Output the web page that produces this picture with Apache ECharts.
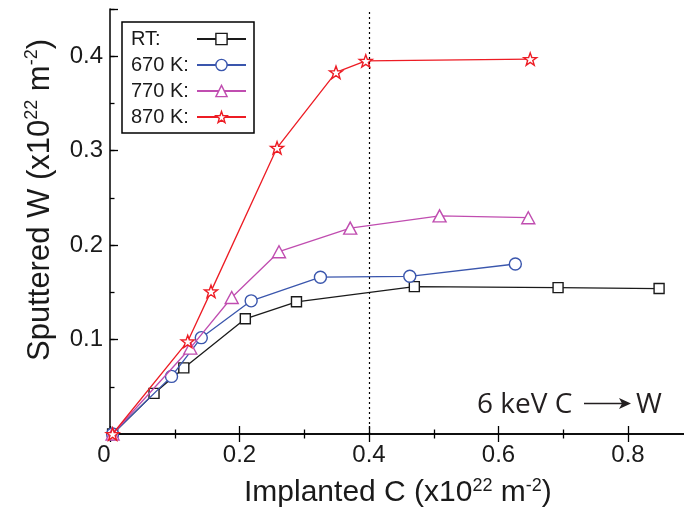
<!DOCTYPE html>
<html>
<head>
<meta charset="utf-8">
<script src="https://cdn.jsdelivr.net/npm/echarts@6/dist/echarts.min.js"></script>
<style>
  html, body { margin: 0; padding: 0; background: #fff; }
  #chart { width: 684px; height: 516px; }
</style>
</head>
<body>
<div id="chart"></div>
<script>
// Sputtered W versus implanted C, [implanted C, sputtered W] in units of 1e22 m^-2
const seriesNames = ['RT', '670 K', '770 K', '870 K'];
const dataRT   = [[0.004, 0], [0.068, 0.043], [0.114, 0.070], [0.209, 0.122], [0.288, 0.140], [0.470, 0.156], [0.692, 0.155], [0.848, 0.154]];
const data670K = [[0.004, 0], [0.095, 0.061], [0.141, 0.102], [0.218, 0.141], [0.325, 0.166], [0.463, 0.167], [0.626, 0.180]];
const data770K = [[0.004, 0], [0.124, 0.091], [0.188, 0.1445], [0.261, 0.193], [0.371, 0.218], [0.509, 0.231], [0.646, 0.229]];
const data870K = [[0.004, 0], [0.120, 0.098], [0.156, 0.151], [0.258, 0.303], [0.349, 0.383], [0.395, 0.395], [0.649, 0.397]];
const fluenceMark = 0.4;   // dotted reference line
const xTicks = { min: 0, max: 1.0, step: 0.2 };
const yTicks = { min: 0, max: 0.45, step: 0.1, minorStep: 0.05 };

const colors = ['#1a1a1a', '#3a56ad', '#c04db0', '#ed1c24'];
const STAR = 'path://M0,-10L2.35,-3.24L9.51,-3.09L3.8,1.24L5.88,8.09L0,4L-5.88,8.09L-3.8,1.24L-9.51,-3.09L-2.35,-3.24Z';
const symbols = ['rect', 'circle', 'triangle', STAR];
const symbolSizes = [10, 12, [13, 12], 13];
const allData = [dataRT, data670K, data770K, data870K];

const TXT = '#1a1a1a';
const labelFont = 'Liberation Sans, Arial, sans-serif';

const chart = echarts.init(document.getElementById('chart'), null, { renderer: 'canvas' });

const tickStyle = { color: '#000', width: 1.3 };
function xAxisBase(pos) {
  return {
    type: 'value', position: pos, gridIndex: 0,
    min: xTicks.min, max: xTicks.max, interval: xTicks.step,
    axisLine: { show: true, lineStyle: { color: '#000', width: 1.5 } },
    axisTick: { show: true, inside: true, length: 8, lineStyle: tickStyle },
    minorTick: { show: true, splitNumber: 2, length: 4.5, lineStyle: tickStyle },
    splitLine: { show: false },
    axisLabel: { show: false }
  };
}

const xBottom = xAxisBase('bottom');
xBottom.axisLabel = {
  show: true, fontSize: 24, fontFamily: labelFont, color: TXT, margin: 9,
  formatter: function (v) {
    if (Math.abs(v) < 1e-9) return '{z|0}';
    return String(+v.toFixed(1));
  },
  rich: { z: { fontSize: 24, fontFamily: labelFont, color: TXT, padding: [0, 12, 0, 0] } }
};
const xTop = xAxisBase('top');

const series = seriesNames.map(function (name, i) {
  const s = {
    name: name,
    type: 'line',
    data: allData[i],
    symbol: symbols[i],
    symbolSize: symbolSizes[i],
    symbolKeepAspect: true,
    showAllSymbol: true,
    clip: false,
    lineStyle: { color: colors[i], width: 1.3 },
    itemStyle: { color: '#fff', borderColor: colors[i], borderWidth: 1.4 },
    emphasis: { disabled: true },
    z: 2 + i
  };
  if (i === 0) {
    s.markLine = {
      silent: true,
      symbol: ['none', 'none'],
      label: { show: false },
      lineStyle: { color: '#000', width: 1.2, type: [2, 3] },
      data: [{ xAxis: fluenceMark }],
      animation: false
    };
  }
  return s;
});

const option = {
  backgroundColor: '#fff',
  animation: false,
  grid: { left: 110, top: 9, width: 647.5, height: 425, containLabel: false, outerBoundsMode: 'none' },
  xAxis: [xBottom, xTop],
  yAxis: [
    {
      type: 'value', position: 'left',
      min: yTicks.min, max: yTicks.max, interval: yTicks.step,
      axisLine: { show: true, lineStyle: { color: '#000', width: 1.5 } },
      axisTick: { show: true, inside: true, length: 8, lineStyle: tickStyle },
      splitLine: { show: false },
      axisLabel: {
        fontSize: 24, fontFamily: labelFont, color: TXT, margin: 7,
        formatter: function (v) {
          if (v < 1e-9 || v > 0.42) return '';
          return v.toFixed(1);
        }
      }
    },
    {
      type: 'value', position: 'left',
      min: yTicks.min, max: yTicks.max, interval: yTicks.minorStep,
      axisLine: { show: false },
      axisTick: { show: true, inside: true, length: 4.5, lineStyle: tickStyle },
      splitLine: { show: false },
      axisLabel: { show: false }
    }
  ],
  legend: {
    data: seriesNames,
    orient: 'vertical',
    left: 122, top: 22,
    align: 'right',
    padding: [7, 7, 6, 9],
    itemGap: 6,
    itemWidth: 49,
    itemHeight: 14,
    backgroundColor: '#fff',
    borderColor: '#000',
    borderWidth: 1.5,
    selectedMode: false,
    itemStyle: { borderWidth: 1.4 },
    formatter: '{a|{name}:}',
    textStyle: {
      color: TXT, fontSize: 20, fontFamily: labelFont,
      rich: { a: { width: 61, align: 'left', fontSize: 20, fontFamily: labelFont, color: TXT, lineHeight: 20 } }
    }
  },
  graphic: [
    {
      type: 'text', left: 244, top: 477, silent: true,
      style: {
        text: '{t|Implanted C (x10}{s|22}{t| m}{s|-2}{t|)}',
        rich: {
          t: { fontSize: 30, fontFamily: labelFont, fill: TXT, lineHeight: 32 },
          s: { fontSize: 18, fontFamily: labelFont, fill: TXT, lineHeight: 18, verticalAlign: 'top' }
        }
      }
    },
    {
      type: 'text', x: 40, y: 361, rotation: Math.PI / 2, silent: true,
      style: {
        text: '{t|Sputtered W (x10}{s|22}{t| m}{s|-2}{t|)}',
        align: 'left', verticalAlign: 'middle',
        rich: {
          t: { fontSize: 31, fontFamily: labelFont, fill: TXT, lineHeight: 33 },
          s: { fontSize: 18, fontFamily: labelFont, fill: TXT, lineHeight: 18, verticalAlign: 'top' }
        }
      }
    },
    {
      type: 'group', left: 477, top: 391, silent: true,
      children: [
        { type: 'text', x: 0, y: 22, style: { text: '6 keV C', font: '28px "Open Sans", sans-serif', fill: '#231f20', verticalAlign: 'middle' } },
        { type: 'line', shape: { x1: 107, y1: 20.5, x2: 148, y2: 20.5 }, style: { stroke: '#231f20', lineWidth: 1.5 } },
        { type: 'polygon', shape: { points: [[142, 15], [154, 20.5], [142, 26], [145, 20.5]] }, style: { fill: '#231f20' } },
        { type: 'text', x: 159, y: 22, style: { text: 'W', font: '28px "Open Sans", sans-serif', fill: '#231f20', verticalAlign: 'middle' } }
      ]
    }
  ],
  series: series
};

chart.setOption(option);
</script>
</body>
</html>
